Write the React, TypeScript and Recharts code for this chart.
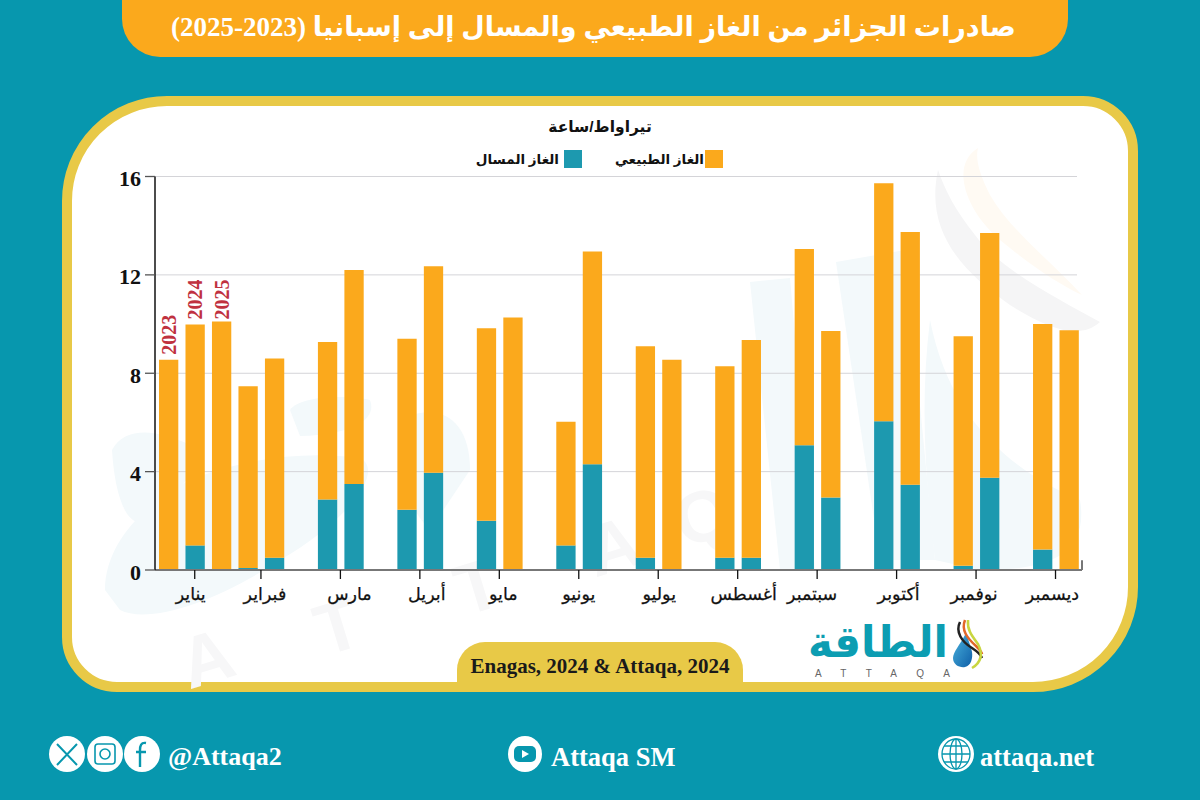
import React from 'react';
import { BarChart, Bar, XAxis, YAxis, CartesianGrid, Legend, LabelList, ReferenceLine } from 'recharts';

const slots = [0.5,1.5,2.5,3.5,4.5,6.5,7.5,9.5,10.5,12.5,13.5,15.5,16.5,18.5,19.5,21.5,22.5,24.5,25.5,27.5,28.5,30.5,31.5,33.5,34.5];
const lngValues = [0,1,0,0.08,0.5,2.87,3.5,2.45,3.95,2,0,1,4.3,0.5,0,0.5,0.5,5.07,2.95,6.05,3.47,0.17,3.75,0.83,0];
const gasValues = [8.55,8.98,10.1,7.39,8.1,6.4,8.7,6.95,8.4,7.83,10.27,5.03,8.65,8.6,8.55,7.78,8.85,7.98,6.77,9.68,10.27,9.33,9.95,9.17,9.75];
const yearTags = ['2023','2024','2025'];
const monthLabels = ['يناير','فبراير','مارس','أبريل','مايو','يونيو','يوليو','أغسطس','سبتمبر','أكتوبر','نوفمبر','ديسمبر'];
const monthTicks = [1.5,4,7,10,13,16,19,22,25,28,31,34];
const yTicks = [0,4,8,12,16];

const rows = slots.map((slot, i) => ({ slot, lng: lngValues[i], gas: gasValues[i], tag: yearTags[i] }));

const TEAL = '#0797AE';
const ORANGE = '#FBA91C';
const BAR_TEAL = '#1D99AF';
const YELLOW = '#E8C947';
const SERIF = '"Liberation Serif", "DejaVu Sans", serif';
const SANS = '"Liberation Sans", "DejaVu Sans", sans-serif';

const labelShift = [-4, 4, 9, 7, 4, 0, 1, 6, -5, 2, -2, -3];

const XTick = (p: any) => {
  const i = monthTicks.indexOf(p.payload.value);
  return (
    <text x={p.x + labelShift[i]} y={594} textAnchor="middle" dominantBaseline="central" direction="rtl"
      fontFamily={SANS} fontSize={17.5} fontWeight={400} stroke="#111" strokeWidth={0.25} fill="#111">
      {monthLabels[i]}
    </text>
  );
};

const YTick = (p: any) => (
  <text x={141} y={p.y + 2} textAnchor="end" dominantBaseline="central" fontFamily={SERIF} fontSize={22} fontWeight={700} fill="#111">
    {p.payload.value}
  </text>
);

const YearTag = (p: any) => {
  if (!p.value) return null;
  const cx = p.x + p.width / 2;
  const cy = p.y - (p.value === '2025' ? 2 : 5);
  return (
    <text x={cx} y={cy} transform={`rotate(-90 ${cx} ${cy})`} dominantBaseline="central" fontFamily={SERIF} fontSize={20} fontWeight={700} fill="#C0313F">
      {p.value}
    </text>
  );
};

const LegendBox = (p: any) => {
  const items = p.payload || [];
  const gas = items.find((d: any) => d.dataKey === 'gas');
  const lng = items.find((d: any) => d.dataKey === 'lng');
  const entry = (d: any, right: number, gap: number) => d && (
    <div key={d.dataKey} style={{ position: 'absolute', right, top: 0, height: 18, display: 'flex', flexDirection: 'row-reverse', alignItems: 'center', gap }}>
      <span style={{ width: 18, height: 18, background: d.color, display: 'block' }} />
      <span dir="rtl" style={{ fontFamily: SANS, fontWeight: 700, fontSize: 13.5, color: '#111', whiteSpace: 'nowrap' }}>{d.value}</span>
    </div>
  );
  return <div style={{ position: 'relative', width: 260, height: 18 }}>{entry(gas, 0, 1)}{entry(lng, 141, 5)}</div>;
};

const Backdrop = () => (
  <svg width={1200} height={800} style={{ position: 'absolute', left: 0, top: 0 }}>
    <defs>
      <linearGradient id="drop" x1="0" y1="0" x2="1" y2="1">
        <stop offset="0" stopColor="#4BB4DE" />
        <stop offset="1" stopColor="#0F5FA8" />
      </linearGradient>
    </defs>
    {/* watermark */}
    <g fill="#F3F9FB">
      <path d="M112,450 C125,425 160,430 190,445 C215,460 175,490 160,510 C130,545 115,500 112,450 Z" />
      <path d="M105,590 C105,540 150,500 190,480 C240,460 300,450 360,458 C385,470 350,520 280,560 C220,600 150,625 120,610 Z" />
      <path d="M290,410 C300,395 350,395 370,400 C378,420 350,435 300,436 Z" />
      <path d="M750,282 L790,278 L815,570 L780,570 Z" />
      <path d="M836,262 L905,250 L935,560 L880,560 Z" />
      <path d="M930,320 C950,420 1010,470 1080,500 C1090,560 1040,570 980,570 L935,560 C925,480 920,400 930,320 Z" />
      <path d="M400,420 C440,400 470,420 470,470 L430,530 C400,500 395,450 400,420 Z" />
    </g>
    <path d="M938,170 C925,230 960,270 1010,305 C1050,330 1080,340 1100,322 C1060,300 1000,270 975,235 C955,210 945,190 938,170 Z" fill="#F5F5F6" />
    <path d="M978,148 C950,165 965,210 1000,240 C1030,265 1060,285 1082,295 C1050,260 1010,230 990,195 C980,175 975,160 978,148 Z" fill="#FFFAF3" />
    <g fill="#F7F7F8" fontFamily={SANS} fontWeight={700} fontSize={72}>
      {[['A', 214, 682], ['T', 345, 650], ['T', 485, 610], ['A', 620, 570], ['Q', 710, 540]].map(([c, x, y]) => (
        <text key={`${c}${x}`} x={x as number} y={y as number} textAnchor="middle" transform={`rotate(-17 ${x} ${y})`}>{c}</text>
      ))}
    </g>
    {/* logo */}
    <text x={808} y={657} textAnchor="end" direction="rtl" fontFamily={SANS} fontWeight={700} fontSize={44} fill="#0C9DB2" textLength={140} lengthAdjust="spacingAndGlyphs">الطاقة</text>
    <text x={815} y={677} fontFamily={SANS} fontSize={10} fill="#666" textLength={135}>ATTAQA</text>
    <path d="M966,633 C960,645 953,652 953,658 C953,665 960,668 965,667 C971,666 973,658 972,652 C971,646 968,640 966,633 Z" fill="url(#drop)" />
    <path d="M960,622 C955,632 962,642 972,648 C978,652 981,655 982,658" fill="none" stroke="#222" strokeWidth={2.5} />
    <path d="M965,620 C961,630 967,638 976,646 C980,650 982,652 982,654" fill="none" stroke="#E2682A" strokeWidth={2.5} />
    <path d="M968,620 C967,630 972,636 978,644 C983,654 982,662 972,668" fill="none" stroke="#C9D640" strokeWidth={2.5} />
    {/* social */}
    <g fill="#fff">
      <circle cx={67} cy={754} r={18} />
      <circle cx={105} cy={754} r={18} />
      <circle cx={142} cy={754} r={18} />
      <ellipse cx={525} cy={754} rx={17} ry={18} />
      <circle cx={956} cy={754} r={18} />
    </g>
    <g stroke={TEAL} fill="none">
      <path d="M57,744 L77,765 M77,744 L57,765" strokeWidth={2} />
      <rect x={95} y={744} width={20} height={20} rx={3} strokeWidth={1.6} />
      <circle cx={105} cy={754} r={5} strokeWidth={1.6} />
      <path d="M146,743 C141,742 140,746 140,750 L140,767 M136,752 L146,752" strokeWidth={2.4} />
      <ellipse cx={956} cy={754} rx={14} ry={15} strokeWidth={1.3} />
      <ellipse cx={956} cy={754} rx={6} ry={15} strokeWidth={1.3} />
      <path d="M956,739 L956,769 M942,754 L970,754 M944,746 L968,746 M944,762 L968,762" strokeWidth={1.3} />
    </g>
    <rect x={514} y={746} width={22} height={16} rx={5} fill={TEAL} />
    <path d="M522,750 L522,758 L529,754 Z" fill="#fff" />
  </svg>
);

const box = (o: React.CSSProperties): React.CSSProperties => ({ position: 'absolute', ...o });

export default function App() {
  return (
    <div style={{ position: 'absolute', left: 0, top: 0, width: 1200, height: 800, background: TEAL, overflow: 'hidden' }}>
      <div style={box({ left: 122, top: -40, width: 946, height: 97, background: ORANGE, borderRadius: 38 })} />
      <div dir="rtl" style={box({ left: 122, top: 0, width: 943, height: 56, lineHeight: '55px', textAlign: 'center', color: '#fff', fontFamily: SERIF, fontWeight: 700, fontSize: 27, whiteSpace: 'nowrap' })}>
        صادرات الجزائر من الغاز الطبيعي والمسال إلى إسبانيا (2023-2025)
      </div>
      <div style={box({ left: 62, top: 96, width: 1076, height: 596, boxSizing: 'border-box', background: '#fff', border: `10px solid ${YELLOW}`, borderRadius: '105px 55px 105px 55px' })} />
      <Backdrop />
      <div style={box({ left: 457, top: 642, width: 286, height: 50, background: YELLOW, borderRadius: '28px 28px 0 0' })} />
      <div style={box({ left: 457, top: 642, width: 286, height: 46, lineHeight: '48px', textAlign: 'center', fontFamily: SERIF, fontWeight: 700, fontSize: 21, color: '#1a1a1a', whiteSpace: 'nowrap' })}>
        Enagas, 2024 &amp; Attaqa, 2024
      </div>
      <div dir="rtl" style={box({ left: 500, top: 118, width: 200, textAlign: 'center', fontFamily: SANS, fontWeight: 700, fontSize: 15.5, color: '#111' })}>تيراواط/ساعة</div>
      <div style={box({ left: 168, top: 742, fontFamily: SERIF, fontWeight: 700, fontSize: 26, color: '#fff', whiteSpace: 'nowrap' })}>@Attaqa2</div>
      <div style={box({ left: 551, top: 742, fontFamily: SERIF, fontWeight: 700, fontSize: 26.5, color: '#fff', whiteSpace: 'nowrap' })}>Attaqa SM</div>
      <div style={box({ left: 980, top: 742, fontFamily: SERIF, fontWeight: 700, fontSize: 26.5, color: '#fff', whiteSpace: 'nowrap' })}>attaqa.net</div>
      <div style={box({ left: 0, top: 0 })}>
        <BarChart width={1200} height={800} data={rows} margin={{ top: 176.5, left: 95, right: 118, bottom: 200 }} style={{ background: 'transparent' }}>
          <CartesianGrid vertical={false} stroke="#D4D4D8" x={155} y={176.5} width={922} height={393.5} />
          <XAxis type="number" dataKey="slot" domain={[0, 35]} ticks={monthTicks} interval={0} height={30}
            tick={<XTick />} tickSize={9} tickLine={{ stroke: '#111', strokeWidth: 1.3 }} axisLine={{ stroke: '#777', strokeWidth: 2 }} />
          <YAxis type="number" domain={[0, 16]} ticks={yTicks} interval={0} width={60}
            tick={<YTick />} tickSize={10} tickLine={{ stroke: '#555', strokeWidth: 1.3 }} axisLine={{ stroke: '#111', strokeWidth: 1.5 }} />
          <Legend layout="horizontal" verticalAlign="middle" align="center" content={<LegendBox />}
            wrapperStyle={{ position: 'absolute', left: 463, top: 149.5, width: 260, height: 18 }} />
          <Bar dataKey="lng" name="الغاز المسال" stackId="s" fill={BAR_TEAL} barSize={19.3} isAnimationActive={false} />
          <Bar dataKey="gas" name="الغاز الطبيعي" stackId="s" fill={ORANGE} barSize={19.3} isAnimationActive={false}>
            <LabelList dataKey="tag" content={<YearTag />} />
          </Bar>
          <ReferenceLine segment={[{ x: 35, y: 0 }, { x: 35, y: 0.4 }]} stroke="#777" strokeWidth={2} ifOverflow="visible" />
        </BarChart>
      </div>
    </div>
  );
}
